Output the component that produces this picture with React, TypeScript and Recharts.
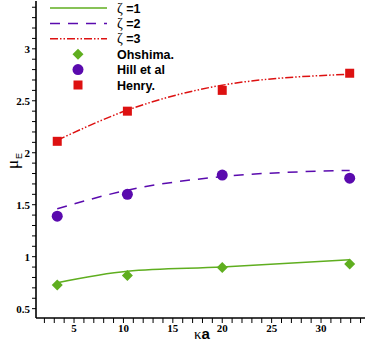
import {
    ComposedChart,
    Line,
    Scatter,
    XAxis,
    YAxis,
} from "recharts";

// κa values
const kappaA = [3.3, 10.4, 20, 32.9];

// model curves (ζ = 1, 2, 3)
const zeta1 = [0.75, 0.86, 0.9, 0.97];
const zeta2 = [1.46, 1.64, 1.77, 1.83];
const zeta3 = [2.12, 2.41, 2.65, 2.755];

// reference results
const ohshima = [0.727, 0.82, 0.895, 0.93];
const hill = [1.39, 1.6, 1.785, 1.755];
const henry = [2.11, 2.4, 2.6, 2.765];

const xTicks = Array.from({ length: 33 }, (_, i) => i + 2);
const yTicks = Array.from({ length: 30 }, (_, i) => Math.round((0.5 + i * 0.1) * 10) / 10);
const xLabels = [5, 10, 15, 20, 25, 30];
const yLabels = [0.5, 1, 1.5, 2, 2.5, 3];

const GREEN = "#5fae1f";
const PURPLE = "#5a0aae";
const RED = "#dd1111";
const SERIF = "'Liberation Serif', 'Times New Roman', 'DejaVu Serif', serif";
const SANS = "'Liberation Sans', Arial, sans-serif";

const toPts = (ys: number[]) => kappaA.map((x, i) => ({ x, y: ys[i] }));

const Diamond = (p: any) => (
    <polygon
        points={`${p.cx},${p.cy - 5.5} ${p.cx + 5.5},${p.cy} ${p.cx},${p.cy + 5.5} ${p.cx - 5.5},${p.cy}`}
        fill={GREEN}
    />
);
const Dot = (p: any) => <circle cx={p.cx} cy={p.cy} r={5.5} fill={PURPLE} />;
const Square = (p: any) => <rect x={p.cx - 4.5} y={p.cy - 4.5} width={9} height={9} fill={RED} />;

const XTick = (p: any) => {
    const v = p.payload.value;
    if (!xLabels.includes(v)) return null;
    return (
        <text x={p.x} y={p.y + 7} textAnchor="middle" style={{ fontFamily: SERIF, fontWeight: "bold", fontSize: 11 }} fill="#000">
            {v}
        </text>
    );
};

const YTick = (p: any) => {
    const v = p.payload.value;
    if (!yLabels.some((l) => Math.abs(l - v) < 1e-6)) return null;
    return (
        <text x={p.x} y={p.y + 4} textAnchor="end" style={{ fontFamily: SERIF, fontWeight: "bold", fontSize: 11 }} fill="#000">
            {v}
        </text>
    );
};

const legendRows = [
    { kind: "line", label: "=1", color: GREEN, dash: undefined },
    { kind: "line", label: "=2", color: PURPLE, dash: "10 8" },
    { kind: "line", label: "=3", color: RED, dash: "8 2 1.5 2 1.5 2" },
    { kind: "diamond", label: "Ohshima.", color: GREEN },
    { kind: "circle", label: "Hill et al", color: PURPLE },
    { kind: "square", label: "Henry.", color: RED },
];

const LegendBox = () => (
    <svg width={200} height={95} style={{ position: "absolute", left: 0, top: 0 }}>
        {legendRows.map((r, i) => {
            const y = 8 + i * 15.4;
            return (
                <g key={i}>
                    {r.kind === "line" && (
                        <line x1={50} x2={107} y1={y} y2={y} stroke={r.color} strokeWidth={1.5} strokeDasharray={r.dash} />
                    )}
                    {r.kind === "diamond" && Diamond({ cx: 78, cy: y })}
                    {r.kind === "circle" && Dot({ cx: 78, cy: y })}
                    {r.kind === "square" && Square({ cx: 78, cy: y })}
                    <text x={117} y={y + 4.5} style={{ fontFamily: SANS, fontWeight: "bold", fontSize: 12.5 }} fill="#000">
                        {r.kind === "line" && <tspan style={{ fontFamily: SERIF, fontWeight: "normal", fontSize: 14 }}>ζ</tspan>}
                        {r.kind === "line" ? " " + r.label : r.label}
                    </text>
                </g>
            );
        })}
    </svg>
);

export default function App() {
    return (
        <div style={{ position: "fixed", left: 0, top: 0, width: 366, height: 351, background: "#fff" }}>
            <ComposedChart width={366} height={351} margin={{ top: 1, right: 1, bottom: 0, left: 0 }}>
                <XAxis
                    xAxisId="b"
                    type="number"
                    dataKey="x"
                    domain={[1.15, 34.45]}
                    ticks={xTicks}
                    interval={0}
                    height={33}
                    tickSize={5}
                    tickLine={{ stroke: "#000", strokeWidth: 1 }}
                    axisLine={{ stroke: "#000", strokeWidth: 1.6 }}
                    tick={<XTick />}
                    allowDataOverflow
                />
                <XAxis xAxisId="t" type="number" dataKey="x" orientation="top" domain={[1.15, 34.45]} height={0} tick={false} tickLine={false} axisLine={{ stroke: "#000", strokeWidth: 1.6 }} />
                <YAxis
                    type="number"
                    dataKey="y"
                    domain={[0.41, 3.46]}
                    ticks={yTicks}
                    interval={0}
                    width={36}
                    tickSize={4}
                    tickLine={{ stroke: "#000", strokeWidth: 1 }}
                    axisLine={{ stroke: "#000", strokeWidth: 1.6 }}
                    tick={<YTick />}
                    allowDataOverflow
                />
                <Line xAxisId="b" data={toPts(zeta1)} dataKey="y" type="monotone" stroke={GREEN} strokeWidth={1.5} dot={false} isAnimationActive={false} />
                <Line xAxisId="b" data={toPts(zeta2)} dataKey="y" type="monotone" stroke={PURPLE} strokeWidth={1.5} strokeDasharray="10 8" dot={false} isAnimationActive={false} />
                <Line xAxisId="b" data={toPts(zeta3)} dataKey="y" type="monotone" stroke={RED} strokeWidth={1.5} strokeDasharray="8 2 1.5 2 1.5 2" dot={false} isAnimationActive={false} />
                <Scatter xAxisId="b" data={toPts(ohshima)} shape={Diamond} isAnimationActive={false} />
                <Scatter xAxisId="b" data={toPts(hill)} shape={Dot} isAnimationActive={false} />
                <Scatter xAxisId="b" data={toPts(henry)} shape={Square} isAnimationActive={false} />
                <text x={202} y={339} textAnchor="middle" style={{ fontFamily: SANS, fontWeight: "bold", fontSize: 15 }} fill="#000">
                    <tspan style={{ fontFamily: SERIF, fontWeight: "normal" }}>κ</tspan>a
                </text>
                <text transform="translate(18,169) rotate(-90)" style={{ fontFamily: SERIF, fontSize: 17 }} fill="#000">
                    μ<tspan style={{ fontFamily: SANS, fontSize: 9 }} dy={4} dx={1}>E</tspan>
                </text>
            </ComposedChart>
            <LegendBox />
        </div>
    );
}
